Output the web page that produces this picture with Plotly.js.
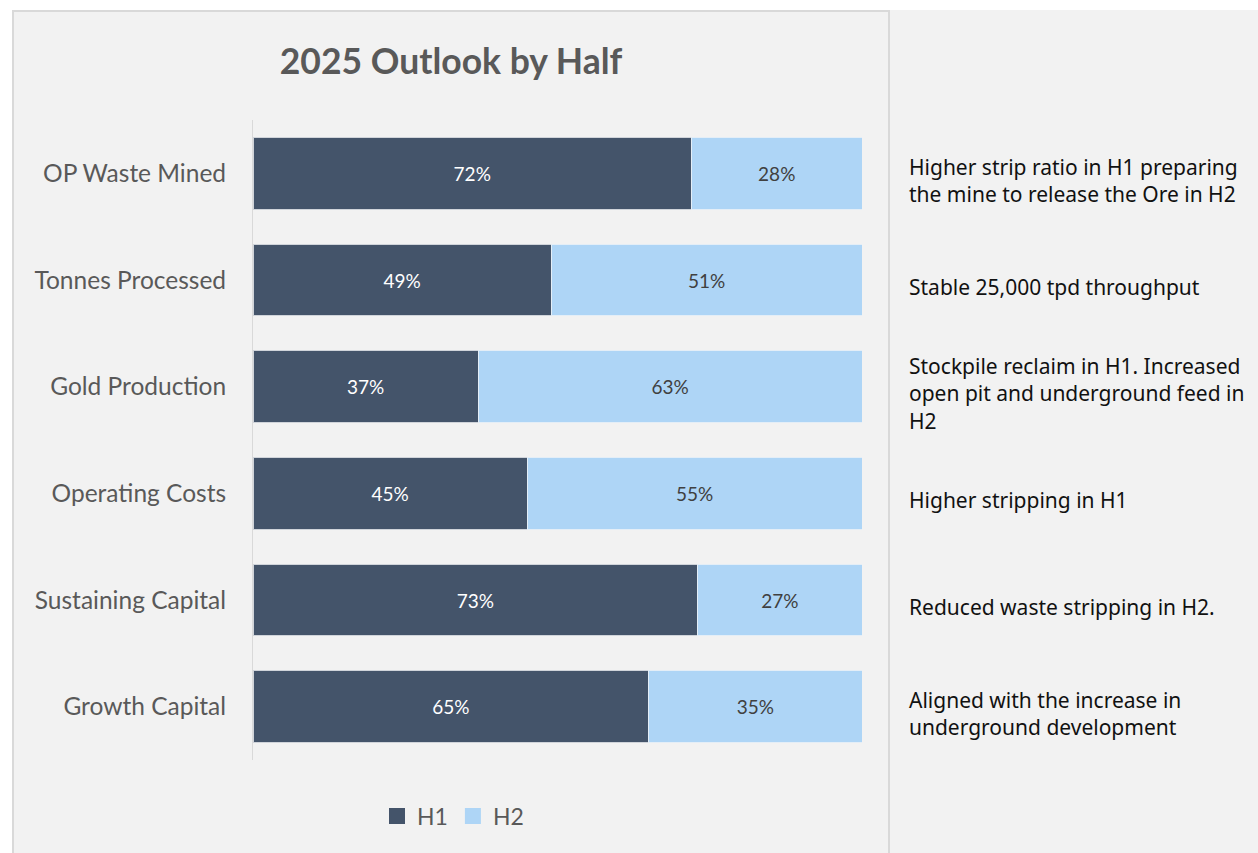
<!DOCTYPE html>
<html>
<head>
<meta charset="utf-8">
<script src="https://cdn.plot.ly/plotly-3.0.1.min.js"></script>
<style>html,body{margin:0;padding:0;background:#ffffff;}#chart{width:1258px;height:853px;}</style>
</head>
<body>
<div id="chart"></div>
<script>
const categories = ["OP Waste Mined", "Tonnes Processed", "Gold Production", "Operating Costs", "Sustaining Capital", "Growth Capital"];
const h1Values = [72, 49, 37, 45, 73, 65];
const h2Values = [28, 51, 63, 55, 27, 35];
const seriesNames = ["H1", "H2"];
const notes = [
  "Higher strip ratio in H1 preparing<br>the mine to release the Ore in H2",
  "Stable 25,000 tpd throughput",
  "Stockpile reclaim in H1. Increased<br>open pit and underground feed in<br>H2",
  "Higher stripping in H1",
  "Reduced waste stripping in H2.",
  "Aligned with the increase in<br>underground development"
];

const W = 1258, H = 853;
const M = {l: 253, r: 396, t: 120, b: 93};
const PW = W - M.l - M.r, PH = H - M.t - M.b;
const px = x => (x - M.l) / PW;
const py = y => (H - M.b - y) / PH;

const labelFont = "Lato, 'Open Sans', sans-serif";
const colors = ['#44546a', '#aed5f6'];

const traces = [
  {
    type: 'bar', orientation: 'h', name: seriesNames[0], showlegend: false,
    y: categories, x: h1Values,
    marker: {color: colors[0], line: {color: '#d0d4da', width: 1}},
    texttemplate: '%{x}%', textposition: 'inside', insidetextanchor: 'middle',
    textfont: {family: labelFont, size: 19, color: '#ffffff'},
    constraintext: 'none', hoverinfo: 'skip'
  },
  {
    type: 'bar', orientation: 'h', name: seriesNames[1], showlegend: false,
    y: categories, x: h2Values,
    marker: {color: colors[1], line: {color: '#e4eef7', width: 1}},
    texttemplate: '%{x}%', textposition: 'inside', insidetextanchor: 'middle',
    textfont: {family: labelFont, size: 19, color: '#404040'},
    constraintext: 'none', hoverinfo: 'skip'
  },
  {type: 'scatter', mode: 'markers', name: seriesNames[0], x: [null], y: [null],
   marker: {symbol: 'square', size: 16, color: colors[0]}, hoverinfo: 'skip'},
  {type: 'scatter', mode: 'markers', name: seriesNames[1], x: [null], y: [null],
   marker: {symbol: 'square', size: 16, color: colors[1]}, hoverinfo: 'skip'}
];

const annotations = categories.map((c, i) => ({
  xref: 'paper', yref: 'y', x: px(907), y: c, yshift: -7,
  xanchor: 'left', yanchor: 'middle', align: 'left',
  text: notes[i], showarrow: false,
  font: {family: "'Noto Sans', Roboto, sans-serif", size: 21, color: '#111111'}
}));

const layout = {
  width: W, height: H,
  margin: M,
  paper_bgcolor: '#ffffff',
  plot_bgcolor: 'rgba(0,0,0,0)',
  barmode: 'stack',
  bargap: 0.33,
  showlegend: true,
  title: {
    text: '<b>2025 Outlook by Half</b>',
    font: {family: labelFont, size: 35.5, color: '#595959'},
    x: px(451), xref: 'paper', xanchor: 'center',
    y: 1 - 62 / H, yref: 'container', yanchor: 'middle'
  },
  xaxis: {range: [0, 100], visible: false, fixedrange: true},
  yaxis: {
    autorange: 'reversed', type: 'category',
    showline: true, linecolor: '#d9d9d9', linewidth: 1,
    ticks: '', showgrid: false, zeroline: false,
    ticklabelstandoff: 21,
    tickfont: {family: labelFont, size: 24.5, color: '#595959'}
  },
  legend: {
    orientation: 'h', x: px(453), xanchor: 'center', y: py(816), yanchor: 'middle',
    font: {family: labelFont, size: 23, color: '#595959'},
    bgcolor: 'rgba(0,0,0,0)', itemwidth: 30, traceorder: 'normal'
  },
  shapes: [
    {type: 'rect', xref: 'paper', yref: 'paper', x0: px(13), x1: px(889), y0: py(860), y1: py(11),
     fillcolor: '#f2f2f2', line: {color: '#d9d9d9', width: 2}, layer: 'below'},
    {type: 'rect', xref: 'paper', yref: 'paper', x0: px(890), x1: px(1262), y0: py(860), y1: py(10),
     fillcolor: '#f2f2f2', line: {width: 0}, layer: 'below'}
  ],
  annotations: annotations
};

Plotly.newPlot('chart', traces, layout, {displayModeBar: false, staticPlot: true});
</script>
</body>
</html>
